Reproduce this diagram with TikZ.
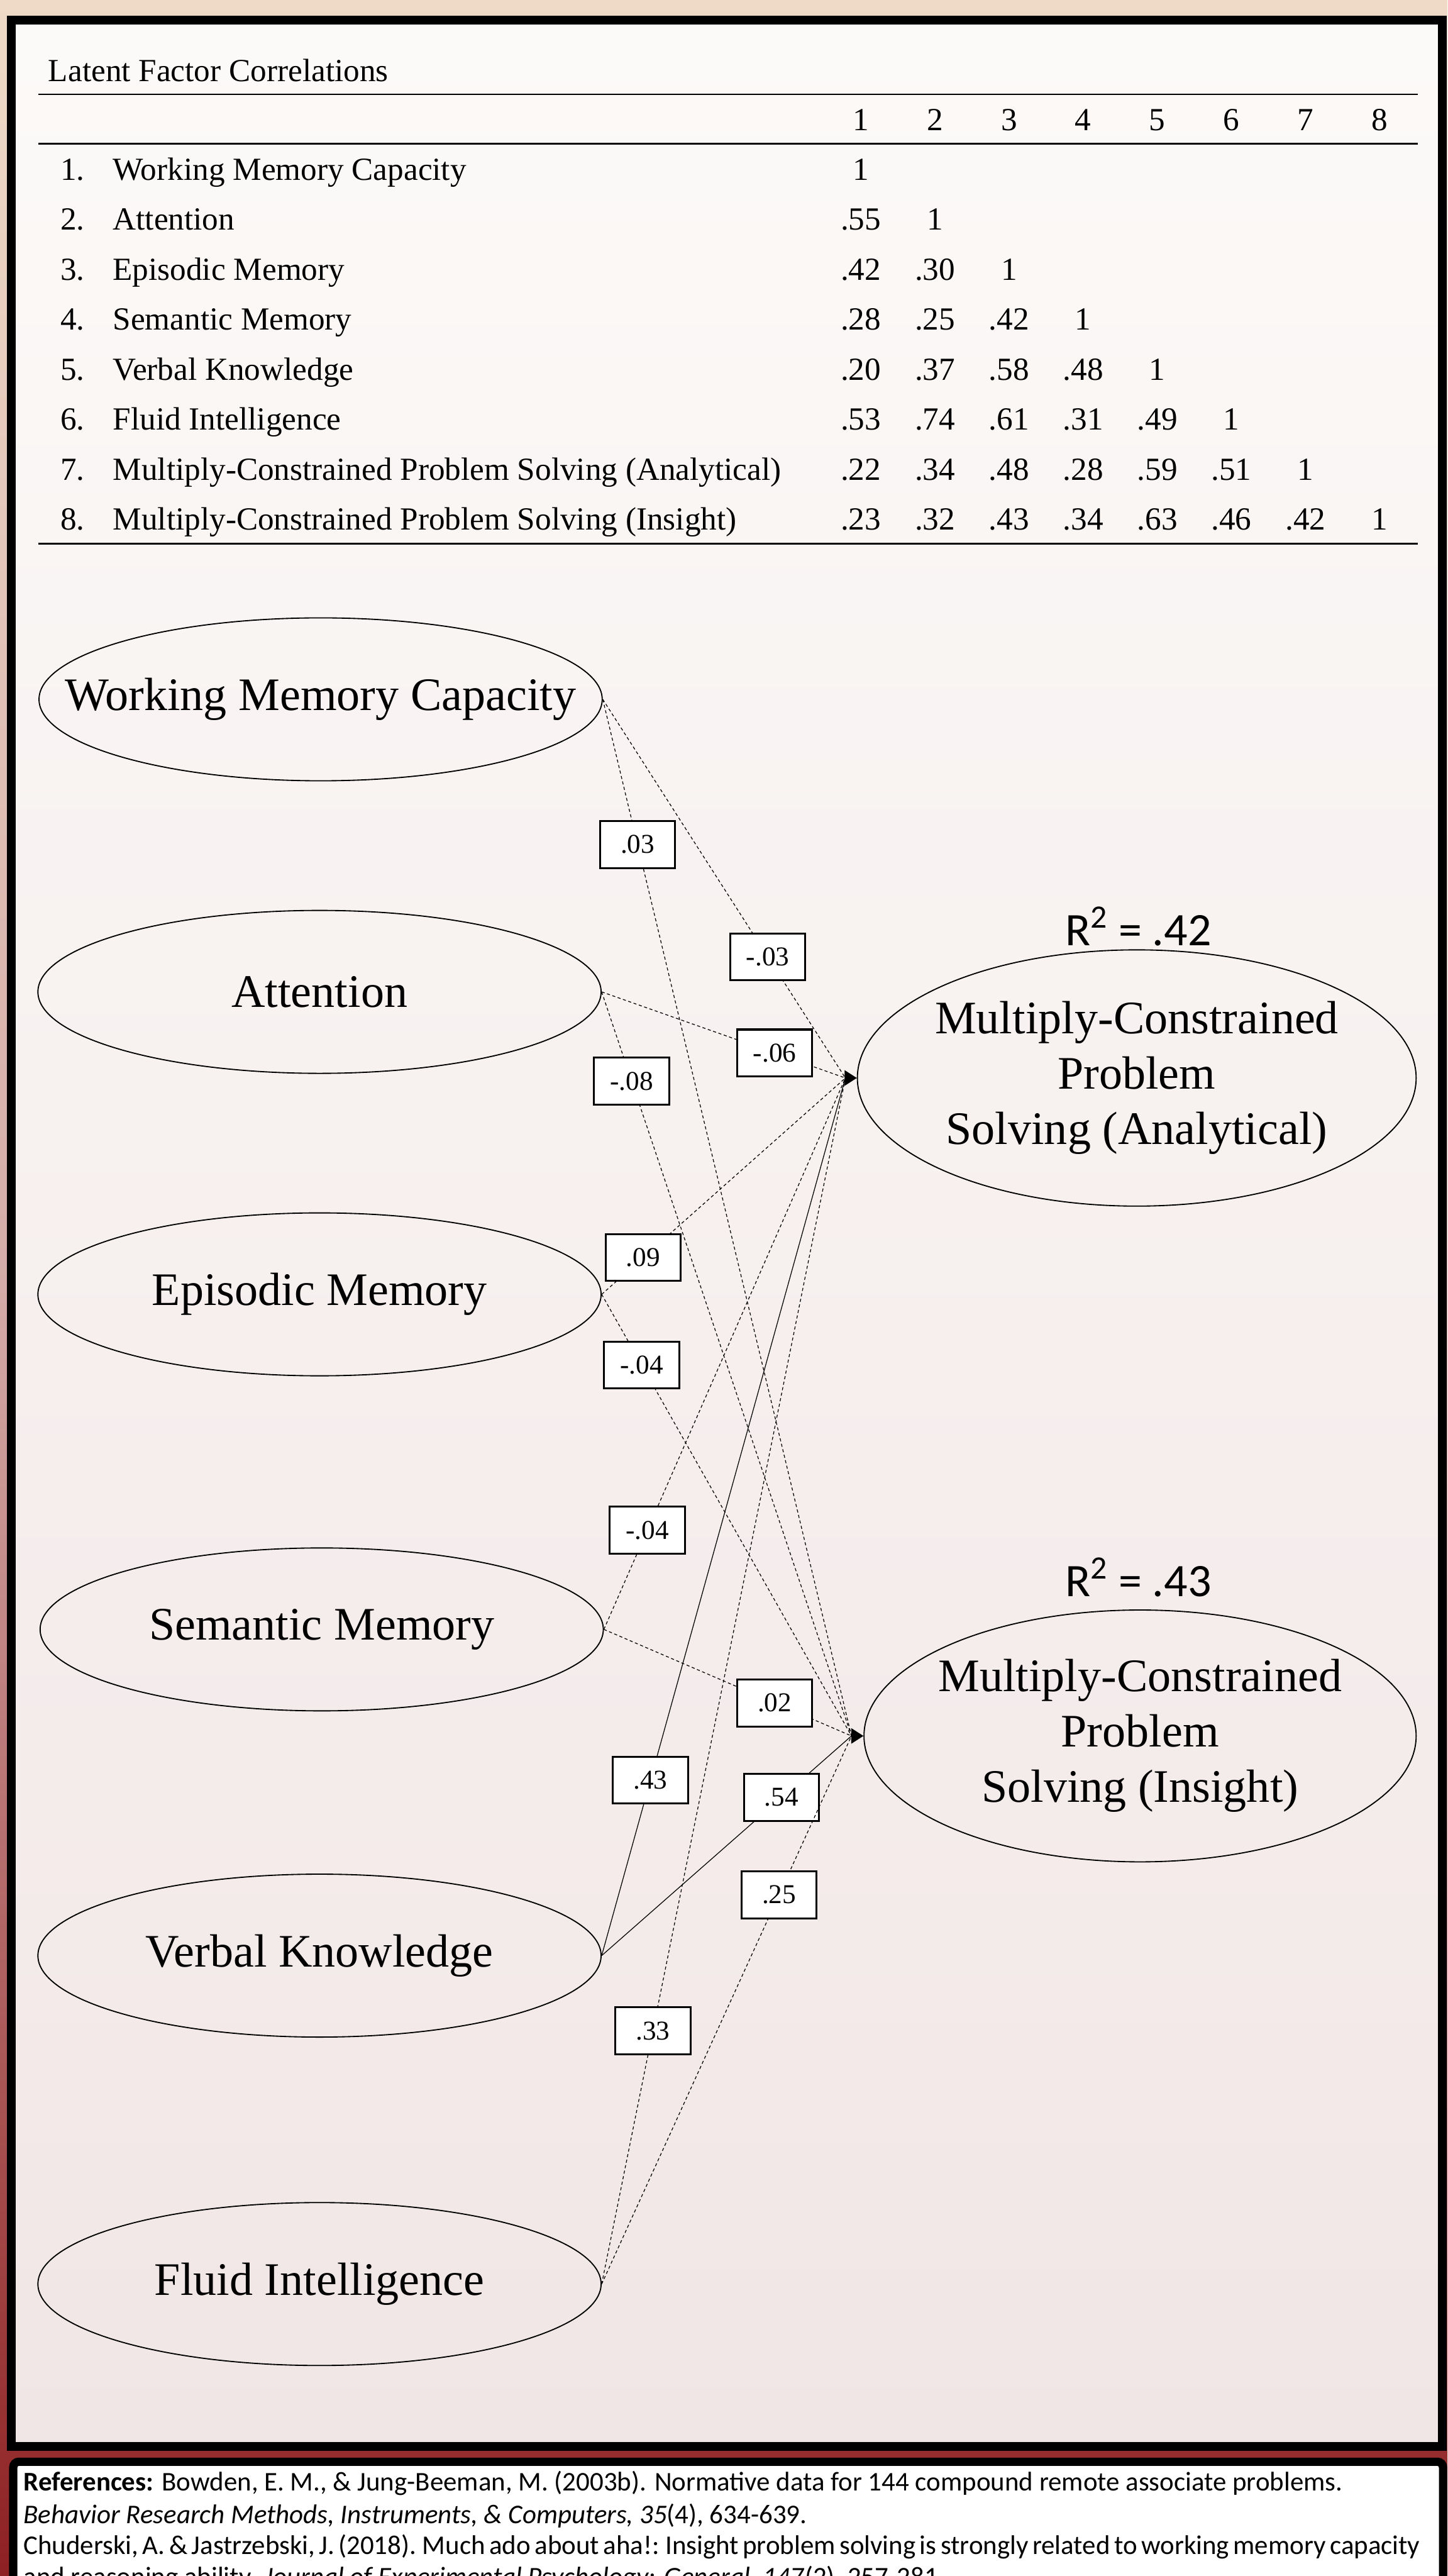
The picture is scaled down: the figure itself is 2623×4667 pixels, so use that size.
\documentclass[tikz,border=0pt]{standalone}
\usepackage{fontspec}
\setmainfont{Liberation Serif}
\newfontfamily\calfont{Carlito}
\usetikzlibrary{shapes.geometric,arrows.meta}

\definecolor{bgtop}{HTML}{EEDAC7}
\definecolor{bgmid}{HTML}{D4ABA8}
\definecolor{bgbot}{HTML}{8E2022}
\definecolor{paneltop}{HTML}{FCFAF8}
\definecolor{panelbot}{HTML}{F1E6E6}

\tikzset{
  tab/.style={inner sep=0pt, font=\fontsize{16.6}{19}\selectfont},
  ell/.style={draw, ellipse, line width=0.6pt, inner sep=0pt, minimum width=10.2cm, minimum height=2.95cm},
  lbl/.style={inner sep=0pt, align=center, font=\fontsize{24}{28.5}\selectfont},
  coef/.style={draw, solid, fill=white, line width=1pt, minimum width=1.36cm, minimum height=0.85cm, inner sep=0pt, font=\fontsize{14}{16}\selectfont},
  dashline/.style={line width=0.4pt, dash pattern=on 1.6pt off 1.3pt},
  solidline/.style={line width=0.4pt},
  rsq/.style={inner sep=0pt, anchor=base, font=\calfont\fontsize{24}{28}\selectfont},
  ref/.style={inner sep=0pt, anchor=base west, font=\calfont\fontsize{13.9}{16}\selectfont},
}

\begin{document}
\begin{tikzpicture}[x=0.01cm, y=-0.01cm]
\useasboundingbox (0,0) rectangle (2623,4667);
\clip (0,0) rectangle (2623,4667);

% background and panels
\shade[top color=bgtop, bottom color=bgbot, middle color=bgmid] (0,0) rectangle (2623,4667);
\draw[line width=0.16cm, top color=paneltop, bottom color=panelbot] (21,37) rectangle (2614,4432);
\draw[line width=0.15cm, fill=white, rounded corners=0.1cm] (24,4460) rectangle (2615,4900);

% correlation table
\node[tab, anchor=base west] (title) at (87,148) {Latent Factor Correlations};
\draw[line width=0.9pt] (70,171) -- (2569,171);
\foreach \c in {1,...,8}
  \node[tab, anchor=base] (h\c) at ({1560+134.3*(\c-1)},237) {\c};
\draw[line width=0.9pt] (70,260) -- (2569,260);

\foreach \r/\txt in {1/Working Memory Capacity, 2/Attention, 3/Episodic Memory,
    4/Semantic Memory, 5/Verbal Knowledge, 6/Fluid Intelligence,
    7/Multiply-Constrained Problem Solving (Analytical),
    8/Multiply-Constrained Problem Solving (Insight)} {
  \node[tab, anchor=base west] (n\r) at (109,{326+90.6*(\r-1)}) {\r.};
  \node[tab, anchor=base west] (t\r) at (204,{326+90.6*(\r-1)}) {\txt};
}
\foreach \v [count=\c] in {1}
  \node[tab, anchor=base] (r1c\c) at ({1560+134.3*(\c-1)},326) {\v};
\foreach \v [count=\c] in {.55,1}
  \node[tab, anchor=base] (r2c\c) at ({1560+134.3*(\c-1)},416.6) {\v};
\foreach \v [count=\c] in {.42,.30,1}
  \node[tab, anchor=base] (r3c\c) at ({1560+134.3*(\c-1)},507.2) {\v};
\foreach \v [count=\c] in {.28,.25,.42,1}
  \node[tab, anchor=base] (r4c\c) at ({1560+134.3*(\c-1)},597.8) {\v};
\foreach \v [count=\c] in {.20,.37,.58,.48,1}
  \node[tab, anchor=base] (r5c\c) at ({1560+134.3*(\c-1)},688.4) {\v};
\foreach \v [count=\c] in {.53,.74,.61,.31,.49,1}
  \node[tab, anchor=base] (r6c\c) at ({1560+134.3*(\c-1)},779) {\v};
\foreach \v [count=\c] in {.22,.34,.48,.28,.59,.51,1}
  \node[tab, anchor=base] (r7c\c) at ({1560+134.3*(\c-1)},869.6) {\v};
\foreach \v [count=\c] in {.23,.32,.43,.34,.63,.46,.42,1}
  \node[tab, anchor=base] (r8c\c) at ({1560+134.3*(\c-1)},960.2) {\v};
\draw[line width=0.9pt] (70,985) -- (2569,985);

% latent factors
\node[ell, label={[lbl]center:Working Memory Capacity}] (wmc) at (581,1267) {};
\node[ell, label={[lbl]center:Attention}] (att) at (579,1797) {};
\node[ell, label={[lbl]center:Episodic Memory}] (epi) at (579,2345) {};
\node[ell, label={[lbl]center:Semantic Memory}] (sem) at (583,2952) {};
\node[ell, label={[lbl]center:Verbal Knowledge}] (verb) at (579,3543) {};
\node[ell, label={[lbl]center:Fluid Intelligence}] (flu) at (579,4138) {};

\node[ell, minimum width=10.12cm, minimum height=4.64cm,
  label={[lbl]center:Multiply-Constrained\\Problem\\Solving (Analytical)}] (ana) at (2060,1953) {};
\node[ell, minimum width=10.0cm, minimum height=4.56cm,
  label={[lbl]center:Multiply-Constrained\\Problem\\Solving (Insight)}] (ins) at (2066,3145) {};

\node[rsq] (r2a) at (2063,1713) {R\textsuperscript{2} = .42};
\node[rsq] (r2i) at (2063,2892) {R\textsuperscript{2} = .43};

\coordinate (anaIn) at (1532,1953);
\coordinate (insIn) at (1543,3145);

% paths
\draw[dashline] (wmc.east) -- node[coef, pos=.68] (c1) {-.03} (anaIn);
\draw[dashline] (wmc.east) -- node[coef, pos=.14] (c2) {.03} (insIn);
\draw[dashline] (att.east) -- node[coef, pos=.71] (c3) {-.06} (anaIn);
\draw[dashline] (att.east) -- node[coef, pos=.12] (c4) {-.08} (insIn);
\draw[dashline] (epi.east) -- node[coef, pos=.17] (c5) {.09} (anaIn);
\draw[dashline] (epi.east) -- node[coef, pos=.16] (c6) {-.04} (insIn);
\draw[dashline] (sem.east) -- node[coef, pos=.18] (c7) {-.04} (anaIn);
\draw[dashline] (sem.east) -- node[coef, pos=.69] (c8) {.02} (insIn);
\draw[solidline] (verb.east) -- node[coef, pos=.20] (c9) {.43} (anaIn);
\draw[solidline] (verb.east) -- node[coef, pos=.72] (c10) {.54} (insIn);
\draw[dashline] (flu.east) -- node[coef, pos=.21] (c11) {.33} (anaIn);
\draw[dashline] (flu.east) -- node[coef, pos=.71] (c12) {.25} (insIn);

\draw[solidline, -{Triangle[length=6.3pt, width=8pt]}] (anaIn) -- (ana.west);
\draw[solidline, -{Triangle[length=6.3pt, width=8pt]}] (insIn) -- (ins.west);

% references
\node[ref] (ref1) at (42,4513) {\textbf{References:} Bowden, E. M., \& Jung-Beeman, M. (2003b). Normative data for 144 compound remote associate problems.};
\node[ref] (ref2) at (42,4572) {\textit{Behavior Research Methods, Instruments, \& Computers, 35}(4), 634-639.};
\node[ref] (ref3) at (42,4628) {\spaceskip=2.1pt Chuderski, A. \& Jastrzebski, J. (2018). Much ado about aha!: Insight problem solving is strongly related to working memory capacity};
\node[ref] (ref4) at (42,4685) {and reasoning ability. \textit{Journal of Experimental Psychology: General, 147}(2), 257-281.};
\end{tikzpicture}
\end{document}
